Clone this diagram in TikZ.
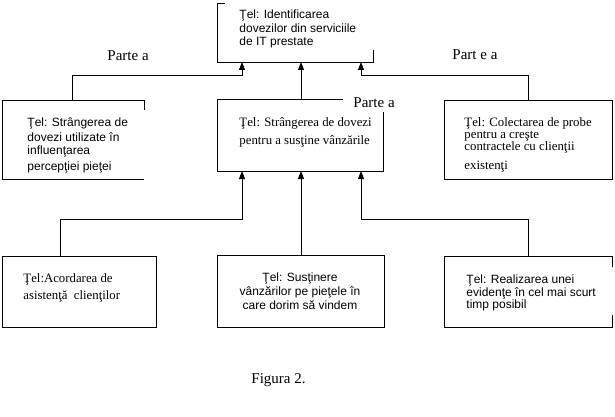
\documentclass[tikz,border=0pt]{standalone}
\usepackage{fontspec}
\setmainfont{Liberation Serif}
\setsansfont{Liberation Sans}
\usetikzlibrary{arrows.meta}
\begin{document}
\begin{tikzpicture}[x=1pt,y=-1pt,line width=0.9pt,
  sanstxt/.style={font=\sffamily\fontsize{12}{14}\selectfont,inner sep=0pt,anchor=base west},
  seriftxt/.style={font=\fontsize{12.8}{15}\selectfont,inner sep=0pt,anchor=base west},
  lbl/.style={font=\fontsize{15}{18}\selectfont,inner sep=0pt,anchor=base west},
  boxarea/.style={inner sep=0pt,outer sep=0pt,anchor=north west},
  arr/.style={-{Triangle[width=6pt,length=8pt]}}]
\useasboundingbox (0,0) rectangle (615,417);

% box areas
\node[boxarea,minimum width=156pt,minimum height=59pt] (top) at (217,3) {};
\node[boxarea,minimum width=142pt,minimum height=79pt] (l1) at (2,100) {};
\node[boxarea,minimum width=166pt,minimum height=72pt] (m1) at (217,99) {};
\node[boxarea,draw,minimum width=168pt,minimum height=79pt] (r1) at (444,100) {};
\node[boxarea,draw,minimum width=154pt,minimum height=71pt] (l2) at (2,256) {};
\node[boxarea,draw,minimum width=167pt,minimum height=72pt] (m2) at (217,255) {};
\node[boxarea,minimum width=168pt,minimum height=71pt] (r2) at (444,256) {};

% partially drawn borders
\draw ([xshift=8pt]top.north west) -- (top.north west) -- (top.south west)
      -- (top.south east) -- ([yshift=12pt]top.south east);
\draw ([yshift=-10pt]l1.north east) -- (l1.north east) -- (l1.north west)
      -- (l1.south west) -- (l1.south east);
\draw ([xshift=126pt]m1.north west) -- (m1.north west) -- (m1.south west)
      -- (m1.south east) -- ([yshift=-13pt]m1.north east);
\draw ([yshift=-11pt]r2.north east) -- (r2.north east) -- (r2.north west)
      -- (r2.south west) -- (r2.south east) -- ([yshift=12pt]r2.south east);

% connectors
\draw[arr] ([xshift=70pt]l1.north west) -- ++(0,-25) -| ([xshift=25pt]top.south west);
\draw[arr] ([xshift=84pt]m1.north west) -- ([xshift=84pt]top.south west);
\draw[arr] ([xshift=84pt]r1.north west) -- ++(0,-25) -| ([xshift=144pt]top.south west);
\draw[arr] ([xshift=58pt]l2.north west) -- ++(0,-37) -| ([xshift=25pt]m1.south west);
\draw[arr] ([xshift=84pt]m2.north west) -- ([xshift=84pt]m1.south west);
\draw[arr] ([xshift=84pt]r2.north west) -- ++(0,-37) -| ([xshift=144pt]m1.south west);

% texts: top box
\node[sanstxt] (t1) at (239,19) {Ţel: Identificarea};
\node[sanstxt] (t2) at (239,32.5) {dovezilor din serviciile};
\node[sanstxt] (t3) at (239,46) {de IT prestate};
% left middle
\node[sanstxt] (a1) at (27,126) {Ţel: Strângerea de};
\node[sanstxt] (a2) at (27,141) {dovezi utilizate în};
\node[sanstxt] (a3) at (27,154) {influenţarea};
\node[sanstxt] (a4) at (27,170) {percepţiei pieţei};
% centre middle
\node[seriftxt] (b1) at (239,127) {Ţel: Strângerea de dovezi};
\node[seriftxt] (b2) at (239,144) {pentru a susţine vânzările};
% right middle
\node[seriftxt] (c1) at (464,126) {Ţel: Colectarea de probe};
\node[seriftxt] (c2) at (464,138) {pentru a creşte};
\node[seriftxt] (c3) at (464,150) {contractele cu clienţii};
\node[seriftxt] (c4) at (464,169) {existenţi};
% left bottom
\node[seriftxt] (d1) at (23,282) {Ţel:Acordarea de};
\node[seriftxt] (d2) at (23,299) {asistenţă~~clienţilor};
% centre bottom
\node[sanstxt,anchor=base] (e1) at (300,281) {Ţel: Susţinere};
\node[sanstxt,anchor=base] (e2) at (300,295) {vânzărilor pe pieţele în};
\node[sanstxt,anchor=base] (e3) at (300,309) {care dorim să vindem};
% right bottom
\node[sanstxt] (f1) at (466,283) {Ţel: Realizarea unei};
\node[sanstxt] (f2) at (466,296) {evidenţe în cel mai scurt};
\node[sanstxt] (f3) at (466,308) {timp posibil};

% labels
\node[lbl] (p1) at (107,61) {Parte a};
\node[lbl] (p2) at (452,60) {Part e a};
\node[lbl] (p3) at (353,107) {Parte a};
\node[lbl] (fig) at (251,383) {Figura 2.};
\end{tikzpicture}
\end{document}
